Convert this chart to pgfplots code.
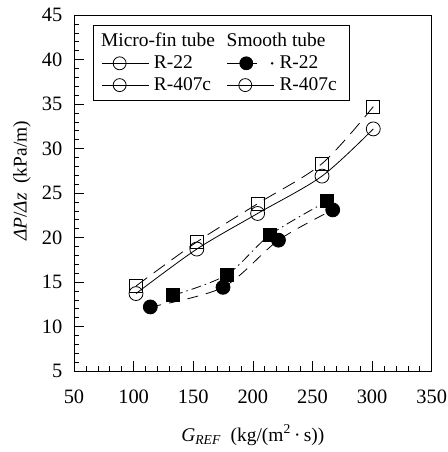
\documentclass[border=0pt]{standalone}
\usepackage{fontspec}
\setmainfont{Liberation Serif}
\usepackage{pgfplots}
\pgfplotsset{compat=1.18}
\pgfplotsset{
  mylegend/.style={legend image code/.code={%
    \draw[##1, mark=none] (0pt,0pt) -- (47pt,0pt);
    \path[##1, solid] plot coordinates {(18pt,0pt)};}},
  dotlegend/.style={legend image code/.code={%
    \draw[##1, mark=none] (0pt,0pt) -- (30pt,0pt);
    \fill (45pt,0pt) circle (0.8pt);
    \path[##1, solid] plot coordinates {(19pt,0pt)};}},
}
\begin{document}
\fontsize{19.5}{22}\selectfont
\begin{tikzpicture}
\begin{axis}[
  at={(0,0)}, anchor=south west,
  scale only axis, width=357.7bp, height=356bp,
  xmin=50, xmax=350, ymin=5, ymax=45,
  xtick={50,100,...,350}, ytick={5,10,...,45},
  minor x tick num=4, minor y tick num=4,
  tick align=inside, xtick pos=left, ytick pos=left,
  major tick length=10bp, minor tick length=5bp,
  axis line style={line width=0.8pt},
  tick style={black, line width=0.6pt},
  /pgf/number format/assume math mode=true,
  ticklabel style={font=\fontsize{20.5}{23}\selectfont},
  xticklabel style={yshift=-12bp},
  yticklabel style={xshift=-5bp},
  label style={font=\fontsize{19.5}{22}\selectfont},
  xlabel={\textit{G}\textsubscript{\textit{REF}}\ \ (kg/(m\textsuperscript{2}\,·\,s))},
  ylabel={\textit{ΔP}/\textit{Δz}\ \ (kPa/m)},
  xlabel style={yshift=-8bp},
  ylabel style={at={(ticklabel cs:0.534)}, yshift=-2bp},
  legend columns=2,
  legend cell align=left,
  legend style={at={(0.053,0.972)}, anchor=north west, draw=black, line width=0.8pt,
    font=\fontsize{19.5}{22}\selectfont, inner xsep=8pt, inner ysep=6pt,
    nodes={inner ysep=1.5pt, inner xsep=5pt}, row sep=3bp,
    /tikz/column 2/.style={column sep=7bp}},
  mylegend,
]
\addlegendimage{empty legend}
\addlegendimage{empty legend}
\addlegendimage{black, line width=0.8pt, mark=o, mark size=6.5pt, mark options={fill=white}}
\addlegendimage{black, line width=0.8pt, mark=*, mark size=6.5pt, dotlegend}
\addlegendimage{black, line width=0.8pt, mark=o, mark size=6.5pt, mark options={fill=white}}
\addlegendimage{black, line width=0.8pt, mark=o, mark size=6.5pt, mark options={fill=white}}
\legend{\hspace*{-53pt}Micro-fin tube, \hspace*{-53pt}Smooth tube, R-22, R-22, R-407c, R-407c}

% Smooth tube R-407c (filled squares, dash-dot)
\addplot[forget plot, black, line width=0.8pt, smooth, tension=0.5,
  dash pattern=on 10bp off 4bp on 1.5bp off 4bp,
  mark=square*, mark size=6.5pt, mark options={solid}]
  coordinates {(133,13.5) (178,15.8) (214.5,20.3) (262.5,24.1)};
% Smooth tube R-22 (filled circles, dashed)
\addplot[forget plot, black, line width=0.8pt, smooth, tension=0.5,
  dash pattern=on 11bp off 8bp,
  mark=*, mark size=7pt, mark options={solid}]
  coordinates {(114,12.2) (175,14.4) (221.5,19.7) (267,23.1)};
% Micro-fin R-22 (open circles, solid)
\addplot[forget plot, black, line width=0.8pt, smooth, tension=0.5,
  mark=o, mark size=7pt, mark options={solid, fill=white}]
  coordinates {(102,13.7) (153,18.7) (204,22.7) (258,26.9) (301,32.2)};
% Micro-fin R-407c (open squares, dashed)
\addplot[forget plot, black, line width=0.8pt, smooth, tension=0.5,
  dash pattern=on 14bp off 8bp,
  mark=square, mark size=6.5pt, mark options={solid, fill=white}]
  coordinates {(102,14.55) (153,19.5) (204,23.8) (258,28.3) (301,34.7)};
\end{axis}
\pgfresetboundingbox
\path[use as bounding box] (-74bp,-81bp) rectangle (374bp,371bp);
\end{tikzpicture}
\end{document}
